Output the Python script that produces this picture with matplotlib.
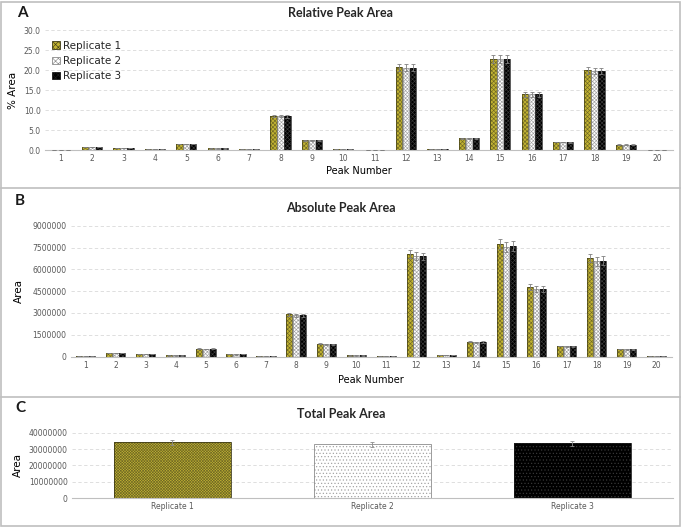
import numpy as np
import matplotlib.pyplot as plt
from matplotlib.patches import Rectangle, Patch
from matplotlib.lines import Line2D

peaks = list(range(1, 21))
replicates = ["Replicate 1", "Replicate 2", "Replicate 3"]

# relative peak area (%)
rel_r1 = [0.1, 0.7, 0.5, 0.2, 1.5, 0.4, 0.15, 8.5, 2.4, 0.2, 0.1, 20.7, 0.3, 2.9, 22.8, 13.9, 2.0, 19.9, 1.3, 0.1]
rel_r2 = [0.1, 0.7, 0.5, 0.2, 1.5, 0.4, 0.15, 8.5, 2.4, 0.2, 0.1, 20.6, 0.3, 2.9, 22.8, 13.9, 2.0, 19.8, 1.3, 0.1]
rel_r3 = [0.1, 0.7, 0.5, 0.2, 1.5, 0.4, 0.15, 8.4, 2.4, 0.2, 0.1, 20.6, 0.3, 2.9, 22.7, 13.9, 1.9, 19.8, 1.3, 0.1]
rel_err = [0.02, 0.05, 0.04, 0.02, 0.1, 0.03, 0.02, 0.35, 0.15, 0.02, 0.02, 0.9, 0.03, 0.15, 1.0, 0.6, 0.1, 0.8, 0.08, 0.01]

# absolute peak area
abs_r1 = [30000, 250000, 180000, 70000, 550000, 150000, 50000, 2900000, 880000, 70000, 30000, 7050000, 100000, 1030000, 7750000, 4800000, 720000, 6780000, 520000, 30000]
abs_r2 = [30000, 230000, 170000, 70000, 520000, 140000, 50000, 2850000, 830000, 70000, 30000, 6920000, 100000, 970000, 7550000, 4660000, 700000, 6550000, 500000, 30000]
abs_r3 = [30000, 240000, 170000, 70000, 540000, 150000, 50000, 2850000, 840000, 70000, 30000, 6900000, 100000, 990000, 7580000, 4670000, 700000, 6600000, 500000, 30000]
abs_err = [2000, 15000, 10000, 5000, 30000, 10000, 3000, 100000, 40000, 5000, 2000, 250000, 6000, 50000, 350000, 200000, 30000, 300000, 25000, 2000]

# total peak area
total = [34000000, 32900000, 33500000]
total_err = [1700000, 1500000, 1400000]

FACE = ["#c2b332", "#ffffff", "#000000"]
HATCH_C = ["#6f6824", "#a0a0a0", "#3a3a3a"]
EDGE = ["#3f3c18", "#8c8c8c", "#1a1a1a"]
HATCH_SMALL = ["xxxxxxxx", "xxxxxxxxx", "xxxxxxxx"]
HATCH_BIG = ["xxxxxxxxxxxx", ".....", "....."]

plt.rcParams["hatch.linewidth"] = 0.45
TICK_C = "#595959"
GRID_C = "#d9d9d9"
W = 682
H = 528


def fy(py):
    return 1 - py / H


def style(ax):
    for s in ["top", "right", "left"]:
        ax.spines[s].set_visible(False)
    ax.spines["bottom"].set_color("#bfbfbf")
    ax.spines["bottom"].set_linewidth(0.8)
    ax.tick_params(length=0, labelsize=5.5, labelcolor=TICK_C, pad=3)
    ax.grid(axis="y", ls=(0, (4, 3)), color=GRID_C, lw=0.6)
    ax.set_axisbelow(True)


def hatched_bar(ax, x, h, w, i, hatch, lw):
    # hatch layer (hatch colour comes from the edge colour), then an outline on top
    ax.bar(x, h, w, color=FACE[i], edgecolor=HATCH_C[i], hatch=hatch, lw=0, zorder=2)
    ax.bar(x, h, w, fill=False, edgecolor=EDGE[i], lw=lw, zorder=2.5)


def grouped(ax, series, err):
    x = np.arange(len(peaks))
    off = [-0.22, 0, 0.22]
    for i, vals in enumerate(series):
        hatched_bar(ax, x + off[i], vals, 0.2, i, HATCH_SMALL[i], 0.5)
        ax.errorbar(x + off[i], vals, yerr=err, fmt="none", ecolor="#7f7f7f",
                    elinewidth=0.6, capsize=1.5, capthick=0.6, zorder=3)
    ax.set_xticks(x)
    ax.set_xticklabels([str(p) for p in peaks])
    ax.set_xlim(-0.5, len(peaks) - 0.5)


fig = plt.figure(figsize=(W / 100, H / 100), dpi=100)

# panel boxes
fig.patches.append(Rectangle((1 / W, 2 / H), 679 / W, 524 / H, transform=fig.transFigure,
                             fill=False, ec="#bfbfbf", lw=1.2))
for py in [188, 397]:
    fig.lines.append(Line2D([1 / W, 680 / W], [fy(py), fy(py)], transform=fig.transFigure,
                            color="#bfbfbf", lw=1.2))

# A
axA = fig.add_axes([45 / W, fy(150), 628 / W, 120 / H])
style(axA)
grouped(axA, [rel_r1, rel_r2, rel_r3], rel_err)
axA.set_ylim(0, 30)
axA.set_yticks(np.arange(0, 31, 5))
axA.set_yticklabels([f"{v:.1f}" for v in np.arange(0, 31, 5)])
axA.set_ylabel("% Area", fontsize=7.5, labelpad=4)
axA.set_xlabel("Peak Number", fontsize=7, labelpad=2)
handles = [Patch(facecolor=FACE[i], edgecolor=EDGE[i], hatch=HATCH_SMALL[i][:6], lw=0.6)
           for i in range(3)]
leg = axA.legend(handles, replicates, loc="upper left", bbox_to_anchor=(0.0, 0.97),
                 frameon=False, fontsize=7.5, handlelength=0.75, handleheight=0.75,
                 handletextpad=0.3, labelspacing=0.5, borderaxespad=0.3)
for t in leg.get_texts():
    t.set_color("#262626")

# B
axB = fig.add_axes([70.7 / W, fy(356.5), 601 / W, 130.8 / H])
style(axB)
grouped(axB, [abs_r1, abs_r2, abs_r3], abs_err)
axB.set_ylim(0, 9000000)
bt = np.arange(0, 9000001, 1500000)
axB.set_yticks(bt)
axB.set_yticklabels([str(int(v)) for v in bt])
axB.set_ylabel("Area", fontsize=7.5, labelpad=6)
axB.set_xlabel("Peak Number", fontsize=7, labelpad=4)

# C
axC = fig.add_axes([72 / W, fy(498), 600.5 / W, 65.3 / H])
style(axC)
xc = np.arange(len(replicates))
for i in range(len(replicates)):
    hatched_bar(axC, xc[i], total[i], 0.585, i, HATCH_BIG[i], 0.6)
axC.errorbar(xc, total, yerr=total_err, fmt="none", ecolor="#8c8c8c",
             elinewidth=0.6, capsize=1.5, capthick=0.6, zorder=3)
axC.set_xticks(xc)
axC.set_xticklabels(replicates)
axC.set_xlim(-0.5, 2.5)
axC.set_ylim(0, 40000000)
ct = np.arange(0, 40000001, 10000000)
axC.set_yticks(ct)
axC.set_yticklabels([str(int(v)) for v in ct])
axC.set_ylabel("Area", fontsize=7.5, labelpad=4)

# titles and letters
for txt, py in [("Relative Peak Area", 13), ("Absolute Peak Area", 208), ("Total Peak Area", 414)]:
    fig.text(0.5, fy(py), txt, ha="center", va="center", fontsize=9, fontweight="bold",
             family="Lato", color="#262626")
for txt, px, py in [("A", 22, 13), ("B", 20, 201), ("C", 20, 408)]:
    fig.text(px / W, fy(py), txt, ha="center", va="center", fontsize=11, fontweight="bold",
             family="Lato", color="#1a1a1a")

fig.savefig("out.png", dpi=100)
